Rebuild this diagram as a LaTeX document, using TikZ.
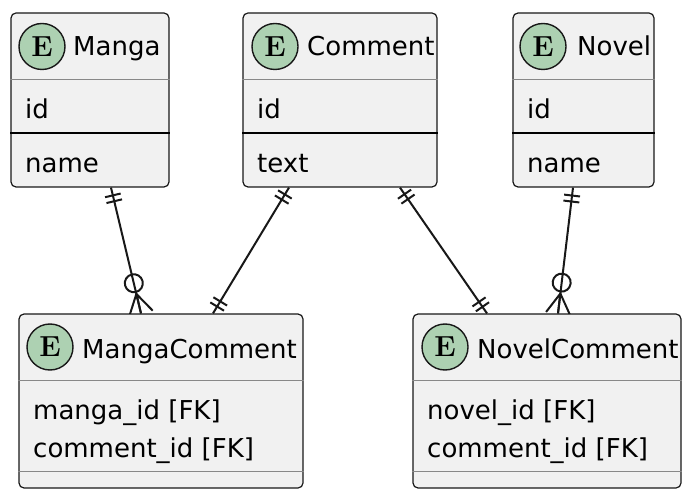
\documentclass[tikz,border=0pt]{standalone}
\usepackage{fontspec}
\setmainfont{DejaVu Sans}
\newfontfamily\emono{Latin Modern Roman}
\usetikzlibrary{decorations.markings,backgrounds}
\definecolor{boxfill}{HTML}{F1F1F1}
\definecolor{boxline}{HTML}{181818}
\definecolor{egreen}{HTML}{ADD1B2}
\definecolor{sepgray}{HTML}{888888}
\tikzset{
  entity/.style={draw=boxline, fill=boxfill, line width=1.2pt, rounded corners=5pt, inner sep=0pt},
  ecirc/.style={circle, draw=boxline, fill=egreen, line width=1.4pt, minimum size=46pt, inner sep=0pt,
    font=\emono\bfseries\fontsize{29}{29}\selectfont},
  txt/.style={anchor=base west, inner sep=0pt, font=\fontsize{26}{31}\selectfont},
  sepline/.style={draw=sepgray, line width=1.5pt},
  keyline/.style={draw=black, line width=2pt},
  conn/.style={draw=boxline, line width=2pt},
  onestart/.style={postaction={decorate, decoration={markings,
    mark=at position 8pt with {\draw[conn] (0,-8pt) -- (0,8pt);},
    mark=at position 14pt with {\draw[conn] (0,-8pt) -- (0,8pt);}}}},
  oneend/.style={postaction={decorate, decoration={markings,
    mark=at position -14pt with {\draw[conn] (0,-8pt) -- (0,8pt);},
    mark=at position -8pt with {\draw[conn] (0,-8pt) -- (0,8pt);}}}},
  manyend/.style={postaction={decorate, decoration={markings,
    mark=at position -31pt with {\draw[conn] (0,0) circle (9pt);},
    mark=at position -20pt with {\draw[conn] (0,0) -- (20pt,12pt) (0,0) -- (20pt,0) (0,0) -- (20pt,-12pt);}}}}
}
\begin{document}
\begin{tikzpicture}[x=1pt, y=-1pt]
\useasboundingbox (0,0) rectangle (690,502);
% entities
\node[entity, minimum width=158pt, minimum height=174pt] (manga) at (90,100) {};
\node[entity, minimum width=194pt, minimum height=174pt] (comment) at (340,100) {};
\node[entity, minimum width=141pt, minimum height=174pt] (novel) at (583.5,100) {};
\node[entity, minimum width=284pt, minimum height=174pt] (mangacomment) at (161,401) {};
\node[entity, minimum width=268pt, minimum height=174pt] (novelcomment) at (547,401) {};
% separators
\foreach \e in {manga, comment, novel} {
  \draw[sepline] ([yshift=-67pt]\e.north west) -- ([yshift=-67pt]\e.north east);
  \draw[keyline] ([yshift=-121pt]\e.north west) -- ([yshift=-121pt]\e.north east);
}
\foreach \e in {mangacomment, novelcomment} {
  \draw[sepline] ([yshift=-67pt]\e.north west) -- ([yshift=-67pt]\e.north east);
  \draw[sepline] ([yshift=-158pt]\e.north west) -- ([yshift=-158pt]\e.north east);
}
% headers
\node[ecirc] (mangaE) at (42,46.5) {E};
\node[txt] (mangaT) at (73,56) {Manga};
\node[ecirc] (commentE) at (275,46.5) {E};
\node[txt] (commentT) at (307,56) {Comment};
\node[ecirc] (novelE) at (543,46.5) {E};
\node[txt] (novelT) at (577,56) {Novel};
\node[ecirc] (mangacommentE) at (50,347) {E};
\node[txt] (mangacommentT) at (82,358) {MangaComment};
\node[ecirc] (novelcommentE) at (445,347) {E};
\node[txt] (novelcommentT) at (477,358) {NovelComment};
% attributes
\node[txt] (mangaId) at (25,119) {id};
\node[txt] (mangaName) at (25,173) {name};
\node[txt] (commentId) at (257,119) {id};
\node[txt] (commentText) at (257,173) {text};
\node[txt] (novelId) at (527,119) {id};
\node[txt] (novelName) at (527,173) {name};
\node[txt] (mcManga) at (33,419) {manga\_id [FK]};
\node[txt] (mcComment) at (33,457) {comment\_id [FK]};
\node[txt] (ncNovel) at (427,419) {novel\_id [FK]};
\node[txt] (ncComment) at (427,457) {comment\_id [FK]};
% relations
\begin{pgfonlayer}{background}
\draw[conn, onestart, manyend] ([xshift=21pt]manga.south) -- ([xshift=-20pt]mangacomment.north);
\draw[conn, onestart, oneend] ([xshift=-51pt]comment.south) -- ([xshift=52pt]mangacomment.north);
\draw[conn, onestart, oneend] ([xshift=60pt]comment.south) -- ([xshift=-60pt]novelcomment.north);
\draw[conn, onestart, manyend] ([xshift=-10.5pt]novel.south) -- ([xshift=11pt]novelcomment.north);
\end{pgfonlayer}
\end{tikzpicture}
\end{document}
